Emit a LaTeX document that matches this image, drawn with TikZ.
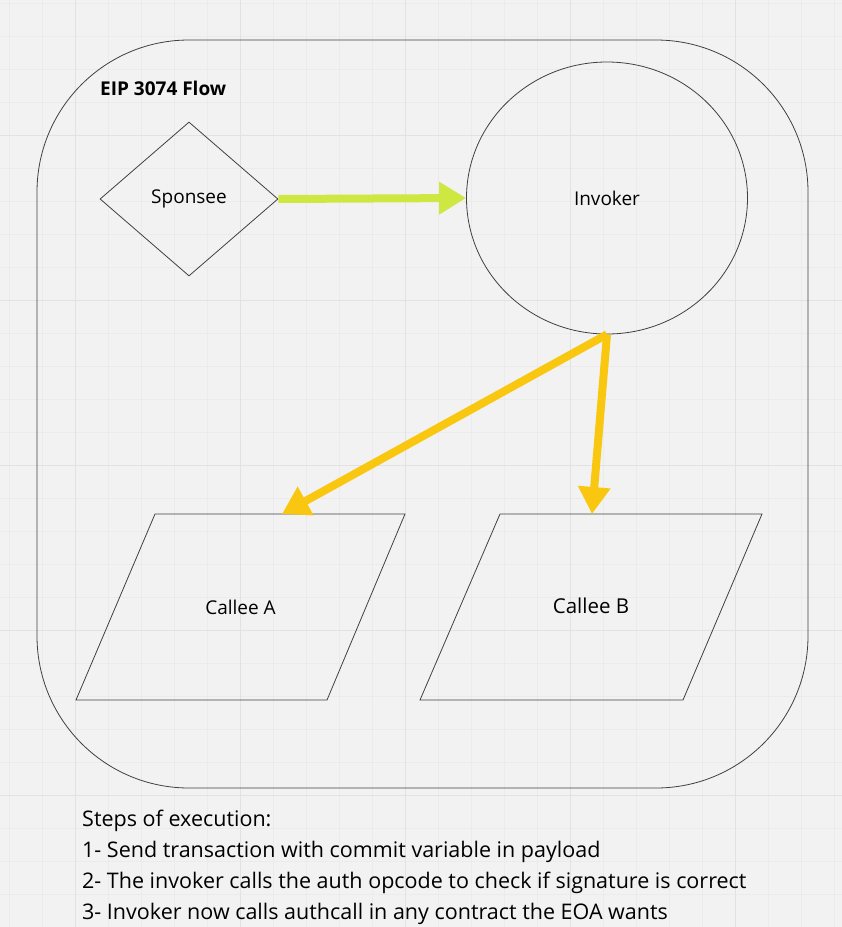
\documentclass[tikz,border=0pt]{standalone}
\usepackage{fontspec}
\setmainfont{Open Sans}
\usetikzlibrary{shapes.geometric,arrows.meta,calc}
\definecolor{boardbg}{HTML}{F2F2F2}
\definecolor{gridminor}{HTML}{EBEBEB}
\definecolor{gridmajor}{HTML}{E2E2E2}
\definecolor{flowgreen}{HTML}{CEE741}
\definecolor{flowyellow}{HTML}{FAC710}
\tikzset{
  shapeline/.style={draw=black!75,line width=0.8pt},
  flowarrow/.style={line width=8pt,-{Triangle[length=27pt,width=31pt]}},
  labeltext/.style={font=\fontsize{19}{23}\selectfont}
}
\begin{document}
\begin{tikzpicture}[x=1pt,y=-1pt]
  % Board
  \fill[boardbg] (0,0) rectangle (842,927);
  \useasboundingbox (0,0) rectangle (842,927);
  \foreach \gx in {9,42,...,842} \draw[gridminor,line width=0.6pt] (\gx,0) -- (\gx,927);
  \foreach \gy in {3,36,...,927} \draw[gridminor,line width=0.6pt] (0,\gy) -- (842,\gy);
  \foreach \gx in {75,240,...,842} \draw[gridmajor,line width=1pt] (\gx,0) -- (\gx,927);
  \foreach \gy in {135,300,...,927} \draw[gridmajor,line width=1pt] (0,\gy) -- (842,\gy);
  % Frame
  \draw[shapeline,rounded corners=152pt] (37,40) rectangle (808,788);
  \node[anchor=west,inner sep=0pt,font=\bfseries\fontsize{19}{23}\selectfont] (title) at (100,88) {EIP 3074 Flow};
  % Shapes
  \node[shapeline,diamond,minimum width=178pt,minimum height=154pt,inner sep=0pt,labeltext] (sponsee) at (189,199) {Sponsee};
  \node[shapeline,ellipse,minimum width=281pt,minimum height=272pt,inner sep=0pt,labeltext] (invoker) at (607,198) {Invoker};
  \draw[shapeline] (155,514) coordinate (topA) -- (405,514) -- (327,700) -- (76,700) -- cycle;
  \draw[shapeline] (500,514) coordinate (topB) -- (762,514) -- (683,700) -- (420,700) -- cycle;
  \node[labeltext] (calleeA) at (240.5,607) {Callee A};
  \node[font=\fontsize{20.5}{24}\selectfont] (calleeB) at (591,606) {Callee B};
  \coordinate (inA) at (282,514);
  \coordinate (inB) at (592,514);
  % Arrows
  \draw[flowarrow,flowgreen] (sponsee.east) -- (invoker.west);
  \draw[flowarrow,flowyellow] (invoker.south) -- (inA);
  \draw[flowarrow,flowyellow] (invoker.south) -- (inB);
  % Steps
  \node[anchor=north west,align=left,inner sep=0pt,font=\fontsize{21.5}{31}\selectfont] (steps) at (82,810)
    {Steps of execution:\\
     1- Send transaction with commit variable in payload\\
     2- The invoker calls the auth opcode to check if signature is correct\\
     3- Invoker now calls authcall in any contract the EOA wants};
\end{tikzpicture}
\end{document}
